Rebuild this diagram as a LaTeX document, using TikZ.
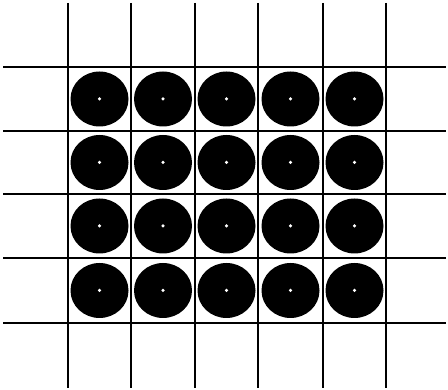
\documentclass[tikz,border=0pt]{standalone}
\usetikzlibrary{shapes.geometric}
\begin{document}
\begin{tikzpicture}
    [x=1pt, y=-1pt,
    line width=1.9pt,
    disc/.style={ellipse, fill=black, minimum width=58pt, minimum height=55pt, inner sep=0pt},
    hole/.style={circle, fill=white, minimum size=3.5pt, inner sep=0pt}]
    \useasboundingbox (0,0) rectangle (448,390);
    % grid
    \foreach \x in {68,131,195,258,323,386}
        \draw (\x,3) -- (\x,388);
    \foreach \y in {67,131,194,258,323}
        \draw (3,\y) -- (446,\y);
    % discs
    \foreach \i/\x in {1/99.5,2/163,3/226.5,4/290.5,5/354.5}
        \foreach \j/\y in {1/99,2/162.5,3/226,4/290.5}
        {
            \node[disc] (D\i\j) at (\x,\y) {};
            \node[hole] (H\i\j) at (D\i\j.center) {};
        }
\end{tikzpicture}
\end{document}
